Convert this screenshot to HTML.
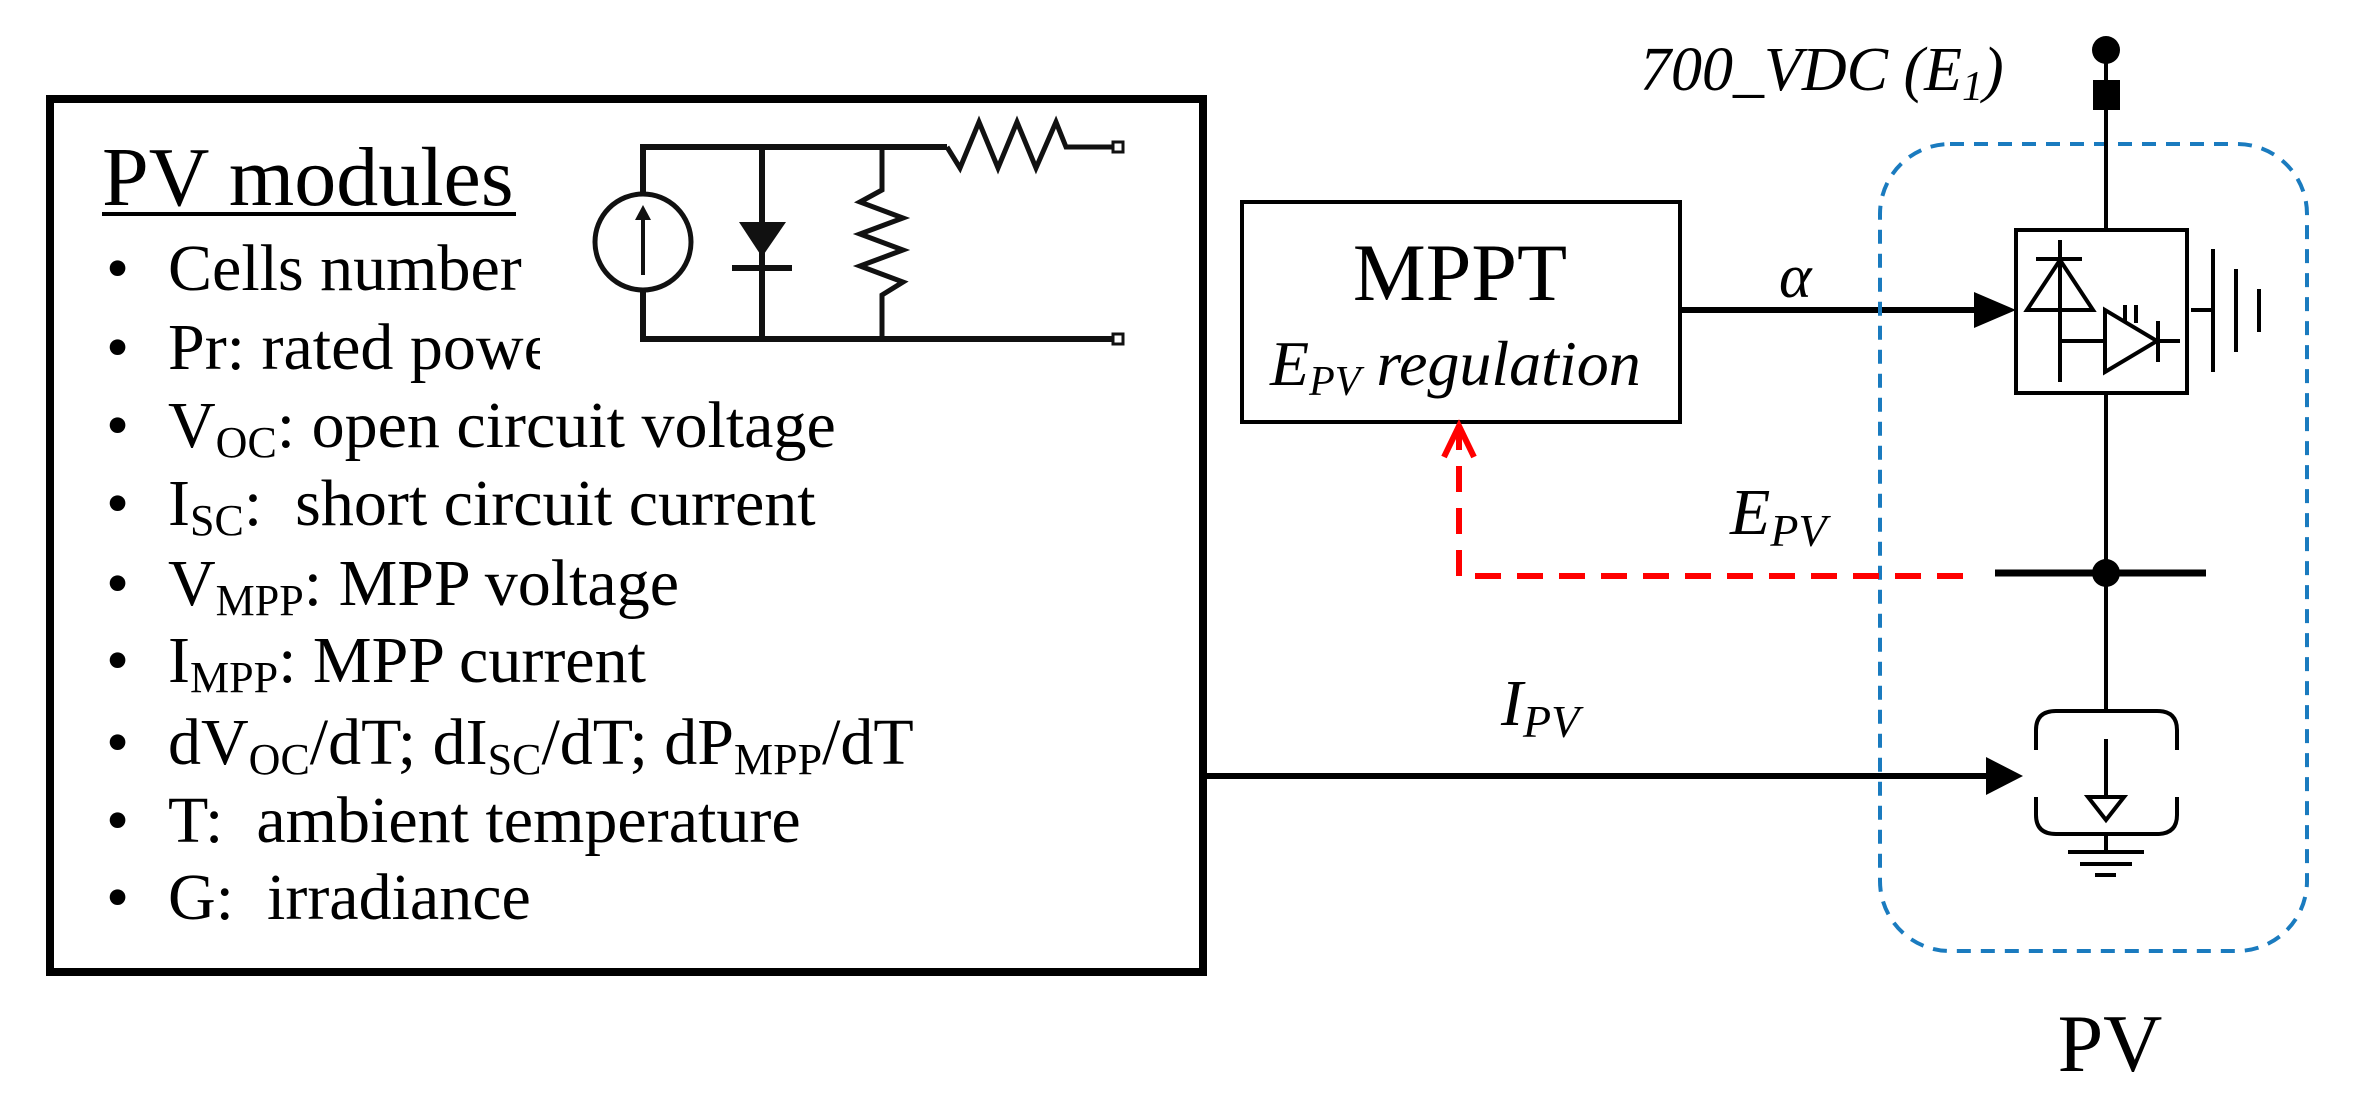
<!DOCTYPE html>
<html><head><meta charset="utf-8"><style>
html,body{margin:0;padding:0;background:#fff;}
svg{display:block;}
text{font-family:"Liberation Serif",serif;fill:#000;}
</style></head><body>
<svg width="2379" height="1109" viewBox="0 0 2379 1109" xmlns="http://www.w3.org/2000/svg">
<!-- left box -->
<rect x="50" y="99" width="1153" height="873" fill="none" stroke="#000" stroke-width="8"/>
<text x="102" y="205" font-size="84">PV modules</text>
<line x1="102" y1="214" x2="516" y2="214" stroke="#000" stroke-width="4"/>
<g font-size="66">
<text x="106" y="290">•</text><text x="168" y="290">Cells number</text>
<text x="106" y="369">•</text><text x="168" y="369">Pr: rated power</text>
<text x="106" y="447">•</text><text x="168" y="447">V<tspan font-size="44" dy="10">OC</tspan><tspan dy="-10">: open circuit voltage</tspan></text>
<text x="106" y="525">•</text><text x="168" y="525">I<tspan font-size="44" dy="10">SC</tspan><tspan dy="-10">:&#160; short circuit current</tspan></text>
<text x="106" y="605">•</text><text x="168" y="605">V<tspan font-size="44" dy="10">MPP</tspan><tspan dy="-10">: MPP voltage</tspan></text>
<text x="106" y="682">•</text><text x="168" y="682">I<tspan font-size="44" dy="10">MPP</tspan><tspan dy="-10">: MPP current</tspan></text>
<text x="106" y="764">•</text><text x="168" y="764">dV<tspan font-size="44" dy="10">OC</tspan><tspan dy="-10">/dT; dI</tspan><tspan font-size="44" dy="10">SC</tspan><tspan dy="-10">/dT; dP</tspan><tspan font-size="44" dy="10">MPP</tspan><tspan dy="-10">/dT</tspan></text>
<text x="106" y="842">•</text><text x="168" y="842">T:&#160; ambient temperature</text>
<text x="106" y="919">•</text><text x="168" y="919">G:&#160; irradiance</text>
</g>
<!-- circuit image -->
<rect x="540" y="104" width="658" height="280" fill="#fff"/>
<g stroke="#111" stroke-width="6" fill="none">
<polyline points="643,193 643,147 947,147"/>
<polyline points="643,290 643,339 1119,339"/>
<circle cx="643" cy="242" r="48" stroke-width="5"/>
<line x1="643" y1="275" x2="643" y2="220" stroke-width="4"/>
<line x1="762" y1="147" x2="762" y2="339"/>
<line x1="732" y1="268" x2="792" y2="268"/>
<polyline points="882,147 882,190 860,202 903,218 860,234 903,250 860,266 903,282 882,295 882,339" stroke-width="5"/>
<polyline points="947,147 960,168 979,122 998,168 1017,122 1036,168 1056,122 1066,147 1113,147" stroke-width="5"/>
<rect x="1113" y="142" width="10" height="10" stroke-width="3" fill="#fff"/>
<rect x="1113" y="334" width="10" height="10" stroke-width="3" fill="#fff"/>
</g>
<polygon points="739,222 786,222 762,257" fill="#111"/>
<polygon points="635,220 651,220 643,205" fill="#111"/>
<!-- MPPT -->
<rect x="1242" y="202" width="438" height="220" fill="none" stroke="#000" stroke-width="4"/>
<text x="1460" y="300" font-size="82" text-anchor="middle">MPPT</text>
<text x="1270" y="385" font-size="64" font-style="italic">E<tspan font-size="42" dy="10">PV</tspan><tspan dy="-10"> regulation</tspan></text>
<!-- alpha arrow -->
<line x1="1680" y1="310" x2="1980" y2="310" stroke="#000" stroke-width="6"/>
<polygon points="1974,292 2016,310 1974,328" fill="#000"/>
<text x="1779" y="297" font-size="62" font-style="italic">α</text>
<!-- blue dashed -->
<rect x="1880" y="144" width="427" height="807" rx="70" ry="70" fill="none" stroke="#1a7bbf" stroke-width="4" stroke-dasharray="14,10"/>
<!-- top terminal -->
<line x1="2106" y1="50" x2="2106" y2="230" stroke="#000" stroke-width="4"/>
<circle cx="2106" cy="50" r="14" fill="#000"/>
<rect x="2093" y="80" width="27" height="30" fill="#000"/>
<text x="1640" y="90" font-size="62" font-style="italic">700_VDC (E<tspan font-size="42" dy="10">1</tspan><tspan dy="-10">)</tspan></text>
<!-- converter -->
<g stroke="#000" stroke-width="4" fill="none">
<rect x="2016" y="230" width="171" height="163"/>
<polygon points="2027,310 2093,310 2060,260"/>
<line x1="2036" y1="259" x2="2082" y2="259"/>
<line x1="2060" y1="240" x2="2060" y2="382"/>
<line x1="2060" y1="341" x2="2105" y2="341"/>
<polygon points="2105,310 2105,372 2157,341"/>
<line x1="2158" y1="321" x2="2158" y2="362"/>
<line x1="2157" y1="341" x2="2180" y2="341"/>
<line x1="2125" y1="305" x2="2125" y2="323"/>
<line x1="2136" y1="305" x2="2136" y2="323"/>
<line x1="2191" y1="310" x2="2213" y2="310"/>
<line x1="2213" y1="249" x2="2213" y2="372"/>
<line x1="2236" y1="269" x2="2236" y2="352"/>
<line x1="2259" y1="289" x2="2259" y2="332"/>
<line x1="2106" y1="393" x2="2106" y2="711"/>
</g>
<!-- bus -->
<line x1="1995" y1="573" x2="2206" y2="573" stroke="#000" stroke-width="7"/>
<circle cx="2106" cy="573" r="14" fill="#000"/>
<text x="1730" y="534" font-size="66" font-style="italic">E<tspan font-size="46" dy="12">PV</tspan></text>
<!-- red dashed -->
<polyline points="1963,576 1459,576 1459,430" fill="none" stroke="#f00" stroke-width="6" stroke-dasharray="26,16"/>
<polyline points="1444,457 1459,426 1474,457" fill="none" stroke="#f00" stroke-width="6"/>
<!-- I_PV -->
<line x1="1203" y1="776" x2="1990" y2="776" stroke="#000" stroke-width="6"/>
<polygon points="1986,757 2023,776 1986,795" fill="#000"/>
<text x="1501" y="725" font-size="66" font-style="italic">I<tspan font-size="46" dy="12">PV</tspan></text>
<!-- source component -->
<g stroke="#000" stroke-width="4" fill="none">
<path d="M2036,750 L2036,730 Q2036,711 2056,711 L2157,711 Q2177,711 2177,730 L2177,750"/>
<path d="M2036,797 L2036,815 Q2036,834 2056,834 L2157,834 Q2177,834 2177,815 L2177,797"/>
<line x1="2106" y1="739" x2="2106" y2="797"/>
<polygon points="2088,797 2124,797 2106,820"/>
<line x1="2106" y1="834" x2="2106" y2="852"/>
<line x1="2068" y1="852" x2="2144" y2="852"/>
<line x1="2080" y1="864" x2="2132" y2="864"/>
<line x1="2095" y1="875" x2="2116" y2="875"/>
</g>
<text x="2110" y="1071" font-size="82" text-anchor="middle">PV</text>
</svg>
</body></html>
